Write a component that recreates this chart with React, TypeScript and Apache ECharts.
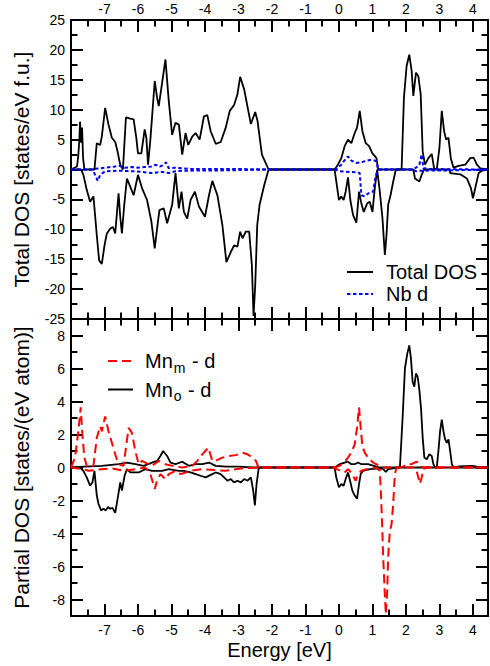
import React, { useEffect, useRef } from 'react';
import * as echarts from 'echarts';

// ---------- axis extents & ticks ----------
const X_MIN = -8;
const X_MAX = 4.45;
const xMajorTicks = [-7, -6, -5, -4, -3, -2, -1, 0, 1, 2, 3, 4];
const xMinorTicks = [-7.5, -6.5, -5.5, -4.5, -3.5, -2.5, -1.5, -0.5, 0.5, 1.5, 2.5, 3.5];
const totalMin = -25;
const totalMax = 25;
const totalMajorTicks = [-25, -20, -15, -10, -5, 0, 5, 10, 15, 20, 25];
const totalMinorTicks = [-22.5, -17.5, -12.5, -7.5, -2.5, 2.5, 7.5, 12.5, 17.5, 22.5];
const partialMin = -9;
const partialMax = 9;
const partialMajorTicks = [-8, -6, -4, -2, 0, 2, 4, 6, 8];
const partialMinorTicks = [-9, -7, -5, -3, -1, 1, 3, 5, 7, 9];

// ---------- Total DOS (top panel) ----------
const totalUpE = [-8.0, -7.82, -7.78, -7.75, -7.73, -7.7, -7.67, -7.64, -7.6, -7.3, -7.23, -7.13, -7.08, -6.98, -6.88, -6.78, -6.68, -6.61, -6.53, -6.45, -6.36, -6.23, -6.13, -6.05, -6.0, -5.9, -5.8, -5.75, -5.7, -5.63, -5.5, -5.43, -5.38, -5.28, -5.18, -5.08, -4.98, -4.88, -4.78, -4.68, -4.58, -4.5, -4.38, -4.28, -4.16, -4.03, -3.93, -3.83, -3.68, -3.53, -3.38, -3.26, -3.13, -3.03, -2.95, -2.83, -2.63, -2.5, -2.43, -2.3, -2.1, -0.13, -0.03, 0.07, 0.17, 0.27, 0.37, 0.47, 0.54, 0.62, 0.7, 0.8, 0.9, 1.0, 1.12, 1.17, 1.87, 1.94, 2.02, 2.1, 2.17, 2.22, 2.3, 2.37, 2.44, 2.5, 2.57, 2.67, 2.77, 2.84, 2.92, 3.0, 3.07, 3.14, 3.2, 3.27, 3.34, 3.42, 3.57, 3.77, 3.92, 4.02, 4.12, 4.22, 4.45];
const totalUpV = [0, 0.5, 2.5, 5, 8.0, 4.5, 7.0, 2, 0, 0, 4.4, 4.1, 5.5, 10.3, 7.5, 5.3, 4.6, 3.0, 0.8, 0, 8.7, 8.5, 8.4, 5.3, 2.7, 2.7, 6.7, 5.3, 0.8, 5.0, 14.8, 12, 10.6, 14.5, 18.4, 11.4, 5.8, 7.8, 7.5, 2.5, 6.1, 4.1, 5.5, 6.1, 5.0, 8.9, 9.1, 6.4, 4.3, 4.6, 7.0, 9.8, 10.8, 12.6, 15.5, 13.4, 7.6, 9.6, 8.1, 2.5, 0, 0, 0.8, 1.9, 3.9, 5.0, 4.4, 6.1, 7.0, 9.8, 6.4, 4.4, 3.9, 2.7, 1.9, 0, 0, 12, 17.3, 19.2, 16.5, 12.3, 16.2, 15.6, 12.6, 3.0, 0.8, 1.9, 2.6, 0.2, 0, 3.6, 9.8, 6.4, 5.0, 5.3, 1.9, 0.3, 0.6, 0.8, 1.9, 2.0, 0.8, 0.2, 0];

const totalDownE = [-8.0, -7.7, -7.63, -7.53, -7.43, -7.33, -7.23, -7.16, -7.08, -7.0, -6.93, -6.83, -6.75, -6.68, -6.58, -6.53, -6.48, -6.41, -6.33, -6.23, -6.13, -6.0, -5.88, -5.73, -5.6, -5.5, -5.43, -5.36, -5.23, -5.13, -4.98, -4.88, -4.78, -4.7, -4.63, -4.53, -4.43, -4.3, -4.18, -4.0, -3.88, -3.78, -3.63, -3.48, -3.36, -3.23, -3.13, -3.03, -2.95, -2.88, -2.78, -2.68, -2.6, -2.55, -2.5, -2.44, -2.37, -2.23, -2.1, -0.13, -0.08, 0.0, 0.07, 0.14, 0.2, 0.27, 0.34, 0.42, 0.52, 0.6, 0.67, 0.74, 0.84, 0.92, 1.0, 1.07, 1.14, 1.22, 1.3, 1.37, 1.42, 1.47, 1.54, 1.62, 1.7, 2.22, 2.27, 2.4, 2.47, 2.54, 3.3, 3.32, 3.62, 3.82, 3.94, 4.0, 4.07, 4.17, 4.27, 4.45];
const totalDownV = [0, 0, -0.9, -3.4, -5.4, -4.5, -11, -15.2, -15.8, -12.7, -10.7, -9.9, -9.6, -10.7, -4.0, -7.9, -10.7, -5.9, -1.5, -2.9, -4.3, -0.9, -3.1, -5.1, -8.7, -13.2, -9.9, -6.8, -6.5, -9.0, -5.9, -0.6, -6.5, -3.7, -7.1, -8.2, -5.1, -3.7, -6.2, -7.9, -4.3, -1.9, -4.3, -9.3, -15.5, -13.8, -12.7, -12.9, -10.4, -11.5, -10.4, -10.4, -16.0, -24.5, -19.4, -9.3, -5.9, -2.6, 0, 0, -2.0, -5.1, -4.5, -5.1, -3.7, -1.3, -5.1, -7.6, -8.9, -3.7, -5.7, -7.1, -5.7, -5.4, -7.1, -3.1, 0, -3.7, -8.2, -14.3, -11, -5.9, -4.3, -2.0, 0, 0, -1.5, -2.0, -0.9, 0, 0, -0.6, -0.8, -1.5, -3.1, -4.8, -3.1, -0.6, -0.2, 0];

const nbUpE = [-8.0, -7.4, -7.3, -7.13, -6.98, -6.68, -6.55, -6.4, -6.2, -6.0, -5.8, -5.6, -5.48, -5.35, -5.25, -5.16, -5.08, -4.9, -4.7, -4.4, -3.5, -2.5, -2.1, -0.1, 0.07, 0.2, 0.27, 0.37, 0.52, 0.72, 0.92, 1.07, 1.12, 1.17, 2.2, 2.3, 2.4, 2.47, 2.52, 2.7, 3.2, 4.45];
const nbUpV = [0, 0, 0.1, 0.2, 0.3, 0.5, 0.6, 0.3, 0.4, 0.3, 0.4, 0.5, 0.8, 0.5, 0.7, 1.2, 0.2, 0.3, 0.2, 0.1, 0.1, 0.05, 0, 0, 0.8, 1.8, 2.2, 1.5, 1.1, 1.3, 1.6, 1.5, 1.3, 0, 0, 0.3, 0.8, 2.5, 0.2, 0.1, 0.05, 0];

const nbDownE = [-8.0, -7.4, -7.33, -7.28, -7.2, -7.13, -6.98, -6.58, -6.08, -5.58, -5.28, -5.08, -4.88, -4.68, -3.5, -2.5, -2.1, -0.1, 0.0, 0.3, 0.55, 0.62, 0.67, 0.77, 0.87, 1.02, 1.1, 1.17, 2.2, 2.3, 2.4, 3.3, 4.45];
const nbDownV = [0, 0, -0.3, -0.9, -1.9, -0.9, -0.3, -0.2, -0.3, -0.6, -0.4, -0.6, -0.3, -0.2, -0.15, -0.05, 0, 0, -0.3, -0.4, -0.5, -0.6, -4.3, -4.5, -4.0, -3.7, -1.0, 0, 0, -0.3, -0.2, -0.15, 0];

// ---------- Partial DOS (bottom panel) ----------
const mnmUpE = [-8.0, -7.88, -7.78, -7.71, -7.66, -7.6, -7.53, -7.33, -7.23, -7.13, -7.08, -6.98, -6.88, -6.78, -6.68, -6.58, -6.43, -6.36, -6.28, -6.18, -6.08, -5.98, -5.88, -5.78, -5.58, -5.38, -5.18, -4.98, -4.68, -4.38, -4.23, -4.08, -3.9, -3.78, -3.68, -3.48, -3.28, -3.08, -2.88, -2.73, -2.58, -2.48, -2.4, -0.13, 0.02, 0.17, 0.27, 0.37, 0.47, 0.54, 0.6, 0.65, 0.7, 0.77, 0.87, 1.02, 1.22, 1.32, 1.87, 2.02, 2.17, 2.32, 2.42, 2.52, 3.9, 3.97, 4.05, 4.45];
const mnmUpV = [0, 0.6, 2.2, 3.65, 2.0, 0.6, 0.1, 0.1, 1.8, 2.5, 2.2, 3.1, 2.2, 1.5, 0.8, 0.2, 0.1, 1.2, 2.4, 2.1, 1.0, 0.2, 0.4, 0.3, 0.1, 0.4, 0.2, 0.1, 0.0, 0.1, 0.4, 0.8, 1.2, 0.4, 0.4, 0.6, 0.7, 0.75, 0.9, 0.8, 0.6, 0.4, 0, 0, 0.1, 0.35, 0.6, 0.9, 1.4, 2.4, 3.65, 2.4, 1.3, 0.9, 0.6, 0.3, 0.1, 0, 0, 0.2, 0.2, 0.35, 0.1, 0, 0, 0.1, 0, 0];

const mnmDownE = [-8.0, -7.63, -7.48, -7.08, -6.78, -6.43, -6.08, -5.78, -5.63, -5.5, -5.43, -5.33, -5.18, -5.08, -4.88, -4.73, -4.58, -4.43, -4.08, -3.38, -3.08, -2.88, -2.4, -0.13, -0.08, 0.07, 0.17, 0.27, 0.32, 0.42, 0.5, 0.57, 0.67, 0.82, 1.12, 1.22, 1.25, 1.29, 1.32, 1.37, 1.4, 1.44, 1.47, 1.52, 1.57, 1.62, 1.67, 1.72, 2.22, 2.32, 2.37, 2.42, 2.47, 2.52, 2.6, 4.45];
const mnmDownV = [0, -0.1, -0.2, -0.1, -0.05, -0.2, -0.1, 0.0, -0.4, -1.3, -0.8, -0.4, -0.7, -0.4, -0.2, -0.4, -0.3, -0.2, -0.1, -0.2, -0.1, -0.05, 0, 0, -0.1, -0.2, -0.3, -0.1, -0.2, -0.5, -0.8, -0.4, -0.2, -0.1, 0, -0.2, -1.4, -3.5, -5.4, -7.7, -8.9, -7.5, -5.4, -3.85, -3.45, -2.2, -0.4, 0, 0, -0.2, -0.6, -1.0, -0.6, -0.1, 0, 0];

const mnoUpE = [-8.0, -7.6, -7.08, -6.58, -6.33, -6.08, -5.83, -5.58, -5.43, -5.33, -5.25, -5.13, -5.03, -4.88, -4.68, -4.48, -4.28, -4.08, -3.88, -3.68, -3.38, -2.98, -2.58, -2.4, -0.13, 0.02, 0.17, 0.27, 0.37, 0.47, 0.57, 0.67, 0.87, 1.12, 1.22, 1.82, 1.9, 1.97, 2.04, 2.1, 2.15, 2.2, 2.25, 2.3, 2.35, 2.4, 2.45, 2.5, 2.55, 2.62, 2.7, 2.77, 2.82, 2.87, 2.92, 2.97, 3.02, 3.07, 3.12, 3.17, 3.22, 3.27, 3.32, 3.37, 3.42, 3.57, 3.97, 4.12, 4.45];
const mnoUpV = [0, 0.05, 0.1, 0.2, 0.3, 0.2, 0.1, 0.3, 0.4, 0.7, 1.0, 0.7, 0.3, 0.2, 0.35, 0.1, 0.2, 0.2, 0.3, 0.1, 0.05, 0.05, 0.0, 0, 0, 0.2, 0.3, 0.35, 0.2, 0.2, 0.3, 0.2, 0.2, 0.05, 0, 0, 3.0, 6.0, 6.9, 7.4, 6.6, 5.2, 4.9, 5.7, 5.5, 4.7, 3.6, 1.8, 0.6, 0.5, 0.8, 0.7, 0.2, 0, 0, 1.0, 2.2, 2.9, 2.2, 1.7, 1.5, 1.7, 1.0, 0.2, 0, 0.06, 0.1, 0.05, 0];

const mnoDownE = [-8.0, -7.73, -7.63, -7.53, -7.43, -7.36, -7.3, -7.23, -7.18, -7.1, -7.03, -6.96, -6.9, -6.83, -6.76, -6.68, -6.6, -6.53, -6.48, -6.4, -6.33, -6.23, -5.98, -5.78, -5.58, -5.28, -5.08, -4.78, -4.63, -4.43, -4.28, -4.13, -3.98, -3.83, -3.68, -3.53, -3.43, -3.33, -3.23, -3.13, -3.03, -2.93, -2.83, -2.73, -2.63, -2.56, -2.51, -2.46, -2.4, -2.36, -0.13, -0.08, 0.0, 0.07, 0.14, 0.2, 0.27, 0.32, 0.4, 0.47, 0.54, 0.6, 0.65, 0.72, 0.92, 1.22, 1.32, 1.4, 1.47, 1.62, 1.72, 4.45];
const mnoDownV = [0, 0, -0.2, -0.6, -1.1, -0.9, -0.2, -1.7, -2.2, -2.6, -2.5, -2.6, -2.4, -2.5, -2.45, -2.75, -1.8, -0.9, -1.4, -0.5, -0.1, -0.3, -0.3, -0.1, -0.2, -0.2, -0.1, -0.2, -0.2, -0.3, -0.4, -0.5, -0.6, -0.45, -0.3, -0.4, -0.6, -0.8, -0.7, -0.9, -0.8, -0.9, -0.7, -0.8, -0.6, -1.4, -2.3, -1.0, -0.1, 0, 0, -0.6, -1.2, -1.0, -1.1, -0.7, -0.3, -0.7, -1.4, -1.7, -1.9, -1.0, -0.4, -0.2, -0.1, -0.05, -0.1, -0.26, -0.1, -0.05, 0, 0];

// ---------- texts ----------
const xTitle = 'Energy [eV]';
const totalTitle = 'Total DOS [states/eV f.u.]';
const partialTitle = 'Partial DOS [states/(eV atom)]';
const nameTotal = 'Total DOS';
const nameNb = 'Nb d';
const nameMnm = 'Mnm - d';
const nameMno = 'Mno - d';

const FONT = '"Liberation Sans", Arial, Helvetica, sans-serif';
const BLACK = '#000000';

const pairs = (e: number[], v: number[]) => e.map((x, i) => [x, v[i]]);

function xAxisDef(gridIndex: number, position: string, values: number[], major: boolean, labels: boolean, name?: string) {
  return {
    type: 'value',
    gridIndex,
    position,
    min: X_MIN,
    max: X_MAX,
    axisLine: { show: major, onZero: false, lineStyle: { color: BLACK, width: 2 } },
    axisTick: { show: true, inside: true, length: major ? 12 : 6.5, customValues: values, lineStyle: { color: BLACK, width: 2 } },
    axisLabel: labels
      ? { show: true, customValues: values, margin: position === 'top' ? 4 : 7, color: BLACK, fontSize: 14, fontFamily: FONT }
      : { show: false },
    splitLine: { show: false },
    name: name || '',
    nameLocation: 'middle',
    nameGap: 24,
    nameTextStyle: { color: BLACK, fontSize: 20, fontFamily: FONT },
  };
}

function yAxisDef(gridIndex: number, position: string, min: number, max: number, values: number[], major: boolean, labels: boolean, name?: string) {
  return {
    type: 'value',
    gridIndex,
    position,
    min,
    max,
    axisLine: { show: major, onZero: false, lineStyle: { color: BLACK, width: 2 } },
    axisTick: { show: true, inside: true, length: major ? 12 : 6.5, customValues: values, lineStyle: { color: BLACK, width: 2 } },
    axisLabel: labels
      ? { show: true, customValues: values, margin: 6, color: BLACK, fontSize: 14, fontFamily: FONT }
      : { show: false },
    splitLine: { show: false },
    name: name || '',
    nameLocation: 'middle',
    nameGap: 39,
    nameTextStyle: { color: BLACK, fontSize: 21, fontFamily: FONT },
  };
}

function lineSeries(name: string, xi: number, yi: number, data: number[][], color: string, width: number, type: any) {
  return {
    type: 'line',
    name,
    xAxisIndex: xi,
    yAxisIndex: yi,
    data,
    symbol: 'none',
    showSymbol: false,
    lineStyle: { color, width, type },
    itemStyle: { color },
    emphasis: { disabled: true },
  };
}

const hiddenSymbol = { color: 'rgba(0,0,0,0)', borderWidth: 0, opacity: 0 };

export default function App() {
  const ref = useRef<HTMLDivElement>(null);
  useEffect(() => {
    if (!ref.current) return;
    const chart = echarts.init(ref.current, undefined, { renderer: 'svg' });
    chart.setOption({
      animation: false,
      backgroundColor: '#ffffff',
      grid: [
        { left: 71, right: 2, top: 20, height: 299 },
        { left: 71, right: 2, top: 319, height: 297 },
      ],
      xAxis: [
        xAxisDef(0, 'bottom', xMajorTicks, true, false),
        xAxisDef(0, 'bottom', xMinorTicks, false, false),
        xAxisDef(0, 'top', xMajorTicks, true, true),
        xAxisDef(0, 'top', xMinorTicks, false, false),
        xAxisDef(1, 'top', xMajorTicks, true, false),
        xAxisDef(1, 'top', xMinorTicks, false, false),
        xAxisDef(1, 'bottom', xMajorTicks, true, true, xTitle),
        xAxisDef(1, 'bottom', xMinorTicks, false, false),
      ],
      yAxis: [
        yAxisDef(0, 'left', totalMin, totalMax, totalMajorTicks, true, true, totalTitle),
        yAxisDef(0, 'left', totalMin, totalMax, totalMinorTicks, false, false),
        yAxisDef(0, 'right', totalMin, totalMax, totalMajorTicks, true, false),
        yAxisDef(0, 'right', totalMin, totalMax, totalMinorTicks, false, false),
        yAxisDef(1, 'left', partialMin, partialMax, partialMajorTicks, true, true, partialTitle),
        yAxisDef(1, 'left', partialMin, partialMax, partialMinorTicks, false, false),
        yAxisDef(1, 'right', partialMin, partialMax, partialMajorTicks, true, false),
        yAxisDef(1, 'right', partialMin, partialMax, partialMinorTicks, false, false),
      ],
      legend: [
        {
          orient: 'vertical',
          left: 346,
          top: 262,
          padding: 0,
          itemWidth: 26,
          itemHeight: 14,
          itemGap: 2,
          itemStyle: hiddenSymbol,
          data: [nameTotal, nameNb],
          textStyle: { color: BLACK, fontSize: 20, fontFamily: FONT, padding: [0, 0, 0, 8] },
          selectedMode: false,
        },
        {
          orient: 'vertical',
          left: 107,
          top: 351,
          padding: 0,
          itemWidth: 25,
          itemHeight: 14,
          itemGap: 5,
          itemStyle: hiddenSymbol,
          data: [nameMnm, nameMno],
          formatter: (n: string) => (n === nameMnm ? 'Mn{sub|m} - d' : 'Mn{sub|o} - d'),
          textStyle: {
            color: BLACK,
            fontSize: 20,
            fontFamily: FONT,
            padding: [0, 0, 0, 7],
            rich: {
              sub: { fontSize: 14, fontFamily: FONT, color: BLACK, verticalAlign: 'bottom', padding: [13, 1, 0, 1] },
            },
          },
          selectedMode: false,
        },
      ],
      series: [
        lineSeries(nameTotal, 0, 0, pairs(totalUpE, totalUpV), BLACK, 1.8, 'solid'),
        lineSeries('Total DOS down', 0, 0, pairs(totalDownE, totalDownV), BLACK, 1.8, 'solid'),
        lineSeries(nameNb, 0, 0, pairs(nbUpE, nbUpV), '#0000ff', 2, [3.5, 2.5]),
        lineSeries('Nb d down', 0, 0, pairs(nbDownE, nbDownV), '#0000ff', 2, [3.5, 2.5]),
        lineSeries(nameMno, 4, 4, pairs(mnoUpE, mnoUpV), BLACK, 1.8, 'solid'),
        lineSeries('Mno down', 4, 4, pairs(mnoDownE, mnoDownV), BLACK, 1.8, 'solid'),
        lineSeries(nameMnm, 4, 4, pairs(mnmUpE, mnmUpV), '#ff0000', 2, [9, 5]),
        lineSeries('Mnm down', 4, 4, pairs(mnmDownE, mnmDownV), '#ff0000', 2, [9, 5]),
      ],
    });
    return () => chart.dispose();
  }, []);
  return (
    <div
      ref={ref}
      style={{ position: 'fixed', left: 0, top: 0, width: 490, height: 666, background: '#fff' }}
    />
  );
}
